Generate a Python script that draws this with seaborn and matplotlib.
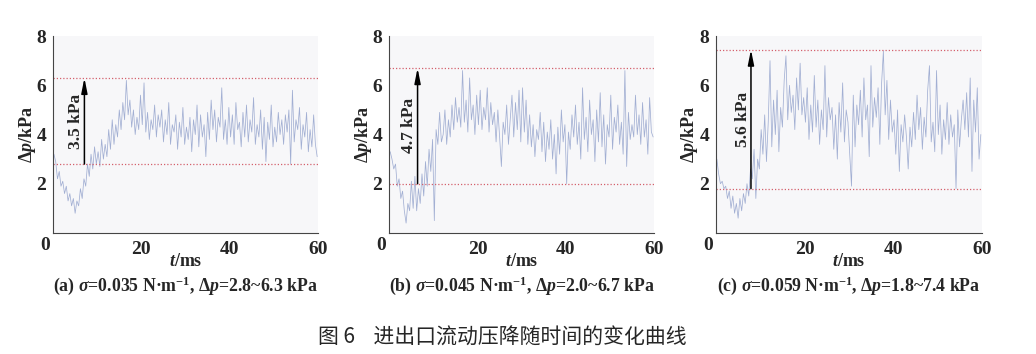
import matplotlib
matplotlib.use("Agg")
import matplotlib.pyplot as plt
import seaborn as sns
import pandas as pd

# -----------------------------
# Data (time in ms, pressure drop in kPa)
# -----------------------------
time_ms = [
    0.2, 0.6, 1.0, 1.4, 1.8, 2.2, 2.6, 3.0, 3.4, 3.8,
    4.2, 4.6, 5.0, 5.4, 5.8, 6.2, 6.6, 7.0, 7.4, 7.8,
    8.2, 8.6, 9.0, 9.4, 9.8, 10.2, 10.6, 11.0, 11.4, 11.8,
    12.2, 12.6, 13.0, 13.4, 13.8, 14.2, 14.6, 15.0, 15.4, 15.8,
    16.2, 16.6, 17.0, 17.4, 17.8, 18.2, 18.6, 19.0, 19.4, 19.8,
    20.2, 20.6, 21.0, 21.4, 21.8, 22.2, 22.6, 23.0, 23.4, 23.8,
    24.2, 24.6, 25.0, 25.4, 25.8, 26.2, 26.6, 27.0, 27.4, 27.8,
    28.2, 28.6, 29.0, 29.4, 29.8, 30.2, 30.6, 31.0, 31.4, 31.8,
    32.2, 32.6, 33.0, 33.4, 33.8, 34.2, 34.6, 35.0, 35.4, 35.8,
    36.2, 36.6, 37.0, 37.4, 37.8, 38.2, 38.6, 39.0, 39.4, 39.8,
    40.2, 40.6, 41.0, 41.4, 41.8, 42.2, 42.6, 43.0, 43.4, 43.8,
    44.2, 44.6, 45.0, 45.4, 45.8, 46.2, 46.6, 47.0, 47.4, 47.8,
    48.2, 48.6, 49.0, 49.4, 49.8, 50.2, 50.6, 51.0, 51.4, 51.8,
    52.2, 52.6, 53.0, 53.4, 53.8, 54.2, 54.6, 55.0, 55.4, 55.8,
    56.2, 56.6, 57.0, 57.4, 57.8, 58.2, 58.6, 59.0, 59.4, 59.8,
]

dp_a = [
    3.2, 2.9, 2.2, 2.5, 1.9, 2.1, 1.6, 1.9, 1.3, 1.6,
    1.1, 1.4, 0.8, 1.3, 1.1, 1.8, 1.4, 2.2, 1.9, 2.8,
    2.3, 3.2, 2.6, 3.5, 2.8, 3.3, 2.7, 3.8, 3.0, 3.6,
    3.1, 4.2, 3.4, 4.6, 3.6, 4.4, 3.9, 5.0, 4.2, 5.3,
    4.6, 6.2, 4.8, 5.4, 4.3, 5.0, 4.0, 4.7, 4.2, 5.6,
    4.4, 6.1, 4.1, 4.9, 3.8, 4.6, 4.2, 5.2, 3.9, 4.8,
    4.3, 5.0, 3.7, 4.6, 4.0, 5.3, 3.6, 4.4, 4.1, 4.8,
    3.4, 4.5, 3.9, 5.1, 3.6, 4.3, 3.8, 4.7, 3.3, 4.6,
    4.0, 5.2, 3.5, 4.8, 3.9, 4.4, 3.1, 4.9, 3.8, 5.4,
    4.2, 5.0, 3.7, 4.7, 4.3, 5.9, 3.8, 4.6, 3.6, 5.1,
    3.9, 4.8, 3.6, 5.3, 4.2, 4.5, 3.5, 4.9, 3.9, 5.2,
    3.7, 4.6, 4.1, 5.5, 3.6, 4.4, 3.9, 5.0, 3.4, 4.7,
    2.9, 4.5, 3.8, 5.2, 3.5, 4.3, 3.7, 4.9, 4.0, 4.6,
    3.6, 4.8, 4.1, 5.0, 2.8, 5.8, 3.7, 4.6, 4.2, 5.1,
    3.4, 4.4, 3.9, 4.9, 3.3, 4.2, 3.5, 4.8, 3.6, 3.1,
]

dp_b = [
    3.3, 3.0, 2.6, 2.8, 1.9, 2.2, 1.4, 1.7, 0.9, 0.4,
    1.2, 0.9, 2.1, 1.0, 2.3, 0.9, 1.8, 1.2, 2.4, 1.5,
    2.9, 1.9, 3.4, 2.5, 3.8, 0.5, 4.2, 3.6, 4.9, 3.7,
    4.0, 5.0, 3.6, 4.6, 3.9, 5.2, 4.2, 5.5, 4.5, 5.1,
    4.3, 6.6, 4.5, 5.4, 4.1, 6.3, 4.6, 5.2, 4.0, 5.6,
    4.4, 5.8, 4.2, 5.1, 4.6, 5.9, 4.1, 5.3, 4.4, 4.9,
    3.7, 5.0, 3.9, 2.7, 4.5, 4.0, 5.2, 3.6, 4.6, 5.6,
    3.9, 5.3, 4.2, 5.8, 3.7, 5.9, 4.1, 5.4, 3.6, 4.8,
    3.5, 4.4, 3.1, 4.2, 3.8, 4.9, 3.3, 4.5, 2.9, 4.1,
    3.4, 4.6, 3.0, 4.0, 2.4, 4.3, 3.2, 5.0, 3.7, 4.4,
    2.0, 4.1, 3.4, 4.8, 3.9, 5.2, 3.6, 4.5, 3.0, 5.9,
    3.8, 4.7, 3.3, 5.4, 4.0, 4.6, 2.9, 5.0, 3.7, 5.7,
    3.5, 4.8, 2.8, 4.4, 3.9, 5.6, 3.4, 4.7, 4.1, 5.2,
    3.6, 4.5, 3.2, 6.6, 2.7, 4.9, 3.8, 4.4, 3.9, 5.6,
    4.0, 4.8, 3.6, 5.3, 3.9, 4.6, 3.2, 5.5, 4.1, 3.9,
]

dp_c = [
    3.0, 2.4, 2.0, 2.1, 1.8, 1.9, 1.4, 1.7, 1.0, 1.5,
    0.8, 1.2, 0.6, 1.4, 0.9, 1.6, 1.2, 2.0, 1.5, 2.6,
    2.2, 3.4, 1.4, 3.0, 2.6, 4.2, 3.2, 4.8, 2.9, 4.5,
    7.0, 3.5, 5.4, 4.0, 5.8, 3.3, 5.1, 4.3, 6.2, 7.2,
    4.6, 6.0, 4.9, 5.6, 4.2, 6.3, 5.0, 6.9, 4.8, 5.5,
    4.5, 5.9, 3.8, 5.2, 4.1, 6.4, 4.3, 5.4, 3.6, 5.0,
    4.2, 6.8, 3.9, 5.5, 4.6, 5.1, 3.4, 4.8, 3.0, 5.3,
    4.1, 6.1, 3.7, 5.0, 4.5, 3.2, 1.9, 5.6, 3.5, 5.2,
    4.4, 5.8, 3.9, 6.3, 4.6, 5.2, 3.1, 6.8, 4.3, 5.5,
    4.7, 5.9, 3.6, 6.1, 7.4, 4.8, 6.2, 3.8, 5.4, 4.1,
    4.6, 3.2, 5.0, 2.5, 4.4, 3.7, 4.8, 3.9, 2.6, 4.3,
    3.5, 4.9, 3.8, 5.6, 4.2, 5.1, 3.4, 4.7, 3.9, 5.8,
    6.8, 3.7, 4.5, 3.3, 6.6, 4.0, 5.2, 3.2, 4.6, 3.8,
    5.3, 3.6, 4.8, 3.9, 4.4, 1.8, 5.0, 3.5, 4.6, 5.4,
    4.2, 5.7, 3.9, 6.3, 2.5, 5.4, 4.1, 5.9, 3.0, 4.0,
]

series = [dp_a, dp_b, dp_c]
low_levels = [2.8, 2.0, 1.8]
high_levels = [6.3, 6.7, 7.45]
arrow_t = [7.1, 6.4, 7.9]
range_labels = ["3.5 kPa", "4.7 kPa", "5.6 kPa"]
panel_tags = ["(a)", "(b)", "(c)"]
sigma_vals = ["0.035", "0.045", "0.059"]
dp_ranges = ["2.8~6.3", "2.0~6.7", "1.8~7.4"]
xtick_vals = [0, 20, 40, 60]
ytick_vals = [2, 4, 6, 8]

# -----------------------------
# Style
# -----------------------------
sns.set_style("white")
plt.rcParams["font.family"] = ["Liberation Serif", "DejaVu Serif"]
plt.rcParams["font.weight"] = "bold"
plt.rcParams["mathtext.fontset"] = "custom"
plt.rcParams["mathtext.it"] = "Liberation Serif:italic:bold"
plt.rcParams["mathtext.rm"] = "Liberation Serif:bold"
plt.rcParams["mathtext.bf"] = "Liberation Serif:bold"

line_color = "#a2afd3"
ref_color = "#d4606c"
spine_color = "#454545"

fig = plt.figure(figsize=(10.36, 3.54), dpi=100)
lefts = [0.0512, 0.3758, 0.6911]
widths = [0.2558, 0.2555, 0.2565]

for i in range(3):
    ax = fig.add_axes([lefts[i], 0.342, widths[i], 0.556])
    ax.set_facecolor("#f7f7f9")
    df = pd.DataFrame({"t": time_ms, "dp": series[i]})
    sns.lineplot(data=df, x="t", y="dp", ax=ax, color=line_color, linewidth=0.55)

    ax.axhline(high_levels[i], color=ref_color, ls=(0, (1, 1.6)), lw=0.9)
    ax.axhline(low_levels[i], color=ref_color, ls=(0, (1, 1.6)), lw=0.9)
    ax.annotate("", xy=(arrow_t[i], high_levels[i]), xytext=(arrow_t[i], low_levels[i]),
                arrowprops=dict(arrowstyle="-|>,head_width=0.18,head_length=0.9",
                                color="black", lw=1.1, shrinkA=0, shrinkB=0))
    ax.text(arrow_t[i] - 1.9, (low_levels[i] + high_levels[i]) / 2, range_labels[i],
            rotation=90, ha="center", va="center", fontsize=12.5, fontweight="bold")

    ax.set_xlim(0, 60)
    ax.set_ylim(0, 8)
    ax.set_xticks(xtick_vals)
    ax.set_xticklabels([""] + [str(v) for v in xtick_vals[1:]])
    ax.set_yticks(ytick_vals)
    ax.set_yticklabels([str(v) for v in ytick_vals])
    ax.text(-0.03, -0.062, "0", transform=ax.transAxes, ha="center", va="center",
            fontsize=14, fontweight="bold")
    ax.tick_params(axis="x", direction="in", length=4, width=0.8, color=spine_color,
                   labelsize=14, pad=6)
    ax.tick_params(axis="y", direction="out", length=3, width=0.8, color=spine_color,
                   labelsize=14, pad=2)
    for lab in ax.get_xticklabels() + ax.get_yticklabels():
        lab.set_fontweight("bold")

    for side in ["top", "right"]:
        ax.spines[side].set_visible(False)
    for side in ["left", "bottom"]:
        ax.spines[side].set_color(spine_color)
        ax.spines[side].set_linewidth(0.8)

    ax.set_xlabel(r"$t$/ms", fontsize=13, fontweight="bold")
    ax.xaxis.set_label_coords(0.5, -0.145)
    ax.xaxis.label.set_va("center")
    ax.set_ylabel(r"Δ$p$/kPa", fontsize=13, fontweight="bold")
    ax.yaxis.set_label_coords(-0.098, 0.5)
    ax.yaxis.label.set_va("center")

    cx = lefts[i] + widths[i] / 2
    caption = (panel_tags[i] + r" $\sigma$=" + sigma_vals[i] + r" N·m$^{-1}$, Δ$p$="
               + dp_ranges[i] + " kPa")
    fig.text(cx, 0.1935, caption, ha="center", va="center", fontsize=12.8, fontweight="bold")

fig.text(0.485, 0.045, "图 6    进出口流动压降随时间的变化曲线", ha="center", va="center",
         fontsize=15, family=["Noto Sans CJK SC", "DejaVu Sans"], fontweight="normal")

plt.savefig("out.png", dpi=100)
